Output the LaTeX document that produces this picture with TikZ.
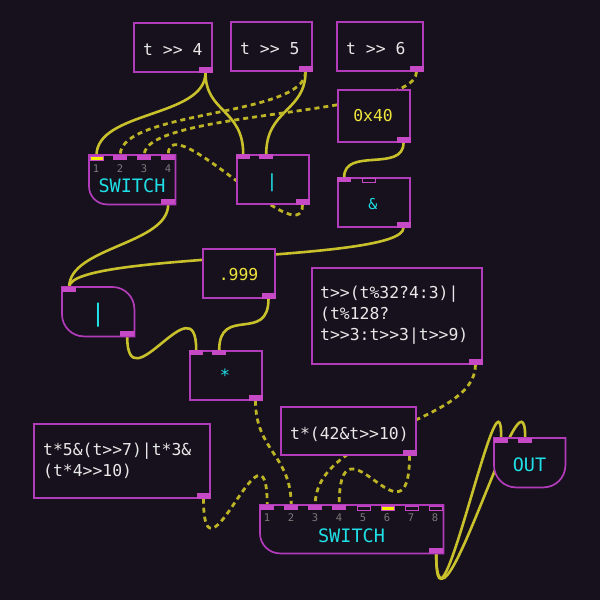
\documentclass[tikz,border=0pt]{standalone}
\usepackage{fontspec}
\newfontfamily\monof{DejaVu Sans Mono}
\definecolor{bgc}{HTML}{16111D}
\definecolor{boxc}{HTML}{B23BBA}
\definecolor{portc}{HTML}{C64AC6}
\definecolor{cablec}{HTML}{C8C12C}
\definecolor{dcablec}{HTML}{BDB526}
\definecolor{txtc}{HTML}{E8E8E8}
\definecolor{ylw}{HTML}{F0E53C}
\definecolor{cyn}{HTML}{1FE0E6}
\definecolor{numc}{HTML}{7A7A7A}
\definecolor{yport}{HTML}{F5F000}
\pgfdeclarelayer{bglayer}
\pgfdeclarelayer{cablelayer}
\pgfsetlayers{bglayer,cablelayer,main}
\tikzset{
 box/.style={rectangle, draw=boxc, fill=bgc, line width=1.7pt, inner sep=0pt, anchor=north west},
 frame/.style={rectangle, draw=none, fill=none, inner sep=0pt, anchor=north west},
 outline/.style={draw=boxc, fill=bgc, line width=1.7pt},
 inlet/.style={rectangle, fill=portc, draw=none, minimum width=14pt, minimum height=5pt, inner sep=0pt, anchor=north west},
 hollow/.style={rectangle, fill=bgc, draw=portc, line width=1pt, minimum width=13pt, minimum height=4.5pt, inner sep=0pt, anchor=north west},
 active/.style={rectangle, fill=yport, draw=portc, line width=1pt, minimum width=13pt, minimum height=4.5pt, inner sep=0pt, anchor=north west},
 outlet/.style={rectangle, fill=portc, draw=none, minimum width=14pt, minimum height=5.5pt, inner sep=0pt, anchor=south east},
 cable/.style={draw=cablec, line width=2.6pt},
 dcable/.style={draw=dcablec, line width=2.8pt, dash pattern=on 5pt off 4pt},
 code/.style={font=\monof\fontsize{16.4}{21}\selectfont, text=txtc, inner sep=0pt, align=left},
 num/.style={font=\monof\fontsize{10.5}{12}\selectfont, text=numc, inner sep=0pt, anchor=base},
 lit/.style={font=\monof\fontsize{16.4}{21}\selectfont, text=ylw, inner sep=0pt, anchor=base},
 op/.style={text=cyn, inner sep=0pt, anchor=center},
 title/.style={font=\monof\fontsize{18.5}{20}\selectfont, text=cyn, inner sep=0pt, anchor=base},
}
\begin{document}
\begin{tikzpicture}[x=1pt,y=-1pt]
\useasboundingbox (0,0) rectangle (600,600);
\begin{pgfonlayer}{bglayer}
\fill[bgc] (0,0) rectangle (600,600);
\end{pgfonlayer}

% ---------- plain boxes ----------
\node[box, minimum width=78pt, minimum height=49pt] (A) at (133,22) {};
\node[box, minimum width=81pt, minimum height=49pt] (B) at (230,21) {};
\node[box, minimum width=86pt, minimum height=49pt] (C) at (336,21) {};
\node[box, minimum width=72pt, minimum height=52pt] (D) at (337,89) {};
\node[box, minimum width=72pt, minimum height=49pt] (OR1) at (236,154) {};
\node[box, minimum width=72pt, minimum height=49pt] (AND) at (337,177) {};
\node[box, minimum width=72pt, minimum height=49pt] (N999) at (202,248) {};
\node[box, minimum width=72pt, minimum height=49pt] (MUL) at (189,350) {};
\node[box, minimum width=170pt, minimum height=96pt] (BIG) at (311,267) {};
\node[box, minimum width=135pt, minimum height=48pt] (T42) at (280,406) {};
\node[box, minimum width=176pt, minimum height=74pt] (LEFT) at (33,423) {};

% ---------- shaped boxes ----------
\node[frame, minimum width=86pt, minimum height=49pt] (SW1) at (89,155) {};
\draw[outline] (SW1.north west) -- (SW1.north east) -- (SW1.south east)
  -- ([xshift=18pt]SW1.south west) arc[start angle=270, end angle=180, radius=18pt] -- cycle;
\node[frame, minimum width=72pt, minimum height=49pt] (OR2) at (62,287) {};
\draw[outline] (OR2.north west) -- ([xshift=-22pt]OR2.north east)
  arc[start angle=90, end angle=0, radius=22pt] -- (OR2.south east)
  -- ([xshift=22pt]OR2.south west) arc[start angle=270, end angle=180, radius=22pt] -- cycle;
\node[frame, minimum width=183pt, minimum height=48pt] (SW2) at (260,505) {};
\draw[outline] (SW2.north west) -- (SW2.north east) -- (SW2.south east)
  -- ([xshift=20pt]SW2.south west) arc[start angle=270, end angle=180, radius=20pt] -- cycle;
\node[frame, minimum width=71pt, minimum height=49pt] (OUT) at (494,438) {};
\draw[outline] (OUT.north west) -- (OUT.north east) -- ([yshift=22pt]OUT.south east)
  arc[start angle=0, end angle=-90, radius=22pt] -- ([xshift=22pt]OUT.south west)
  arc[start angle=270, end angle=180, radius=22pt] -- cycle;

% ---------- ports ----------
\node[outlet] (Ao) at (A.south east) {};
\node[outlet] (Bo) at (B.south east) {};
\node[outlet] (Co) at (C.south east) {};
\node[outlet] (Do) at (D.south east) {};
\node[outlet] (S1o) at (SW1.south east) {};
\node[outlet] (O1o) at (OR1.south east) {};
\node[outlet] (ANDo) at (AND.south east) {};
\node[outlet] (No) at (N999.south east) {};
\node[outlet] (O2o) at (OR2.south east) {};
\node[outlet] (Mo) at (MUL.south east) {};
\node[outlet] (BIGo) at (BIG.south east) {};
\node[outlet] (To) at (T42.south east) {};
\node[outlet] (Lo) at (LEFT.south east) {};
\node[outlet] (S2o) at (SW2.south east) {};

\node[active] (S1i1) at ([shift={(0.5pt,-0.5pt)}]SW1.north west) {};
\node[inlet] (S1i2) at ([xshift=24pt]SW1.north west) {};
\node[inlet] (S1i3) at ([xshift=48pt]SW1.north west) {};
\node[inlet] (S1i4) at ([xshift=72pt]SW1.north west) {};
\node[inlet] (O1i1) at (OR1.north west) {};
\node[inlet] (O1i2) at ([xshift=23pt]OR1.north west) {};
\node[inlet] (ANDi1) at (AND.north west) {};
\node[hollow] (ANDi2) at ([shift={(24.5pt,-0.5pt)}]AND.north west) {};
\node[inlet] (O2i1) at (OR2.north west) {};
\node[inlet] (Mi1) at (MUL.north west) {};
\node[inlet] (Mi2) at ([xshift=23pt]MUL.north west) {};
\node[inlet] (S2i1) at (SW2.north west) {};
\node[inlet] (S2i2) at ([xshift=24pt]SW2.north west) {};
\node[inlet] (S2i3) at ([xshift=48pt]SW2.north west) {};
\node[inlet] (S2i4) at ([xshift=72pt]SW2.north west) {};
\node[hollow] (S2i5) at ([shift={(96.5pt,-0.5pt)}]SW2.north west) {};
\node[active] (S2i6) at ([shift={(120.5pt,-0.5pt)}]SW2.north west) {};
\node[hollow] (S2i7) at ([shift={(144.5pt,-0.5pt)}]SW2.north west) {};
\node[hollow] (S2i8) at ([shift={(168.5pt,-0.5pt)}]SW2.north west) {};
\node[inlet] (OUTi1) at (OUT.north west) {};
\node[inlet] (OUTi2) at ([xshift=24pt]OUT.north west) {};

% ---------- texts ----------
\node[code, anchor=base west] (Atx) at (143,55) {t >> 4};
\node[code, anchor=base west] (Btx) at (240,54) {t >> 5};
\node[code, anchor=base west] (Ctx) at (346,54) {t >> 6};
\node[lit] (Dtx) at (373,121.5) {0x40};
\node[lit] (Ntx) at (238.5,280.5) {.999};
\node[code, anchor=north west] (BIGtx) at (320,285.5) {t>>(t\%32?4:3)|\\(t\%128?\\t>>3:t>>3|t>>9)};
\node[code, anchor=base west] (Ttx) at (290,439) {t*(42\&t>>10)};
\node[code, anchor=north west] (Ltx) at (43,443.2) {t*5\&(t>>7)|t*3\&\\(t*4>>10)};
\node[op, font=\monof\fontsize{18}{19}\selectfont] (O1tx) at (272,182.5) {|};
\node[op, font=\monof\fontsize{15}{16}\selectfont] (ANDtx) at (373,204.5) {\&};
\node[op, font=\monof\fontsize{24}{26}\selectfont] (O2tx) at (98,315) {|};
\node[op, font=\monof\fontsize{17}{18}\selectfont] (Mtx) at (225,375) {*};
\node[title] (S1tx) at (132,192) {SWITCH};
\node[title] (S2tx) at (351.5,542) {SWITCH};
\node[title] (OUTtx) at (529.5,471) {OUT};
\foreach \k/\n in {0/1,1/2,2/3,3/4}
  \node[num] (S1n\n) at ({96+24*\k},172) {\n};
\foreach \k/\n in {0/1,1/2,2/3,3/4,4/5,5/6,6/7,7/8}
  \node[num] (S2n\n) at ({267+24*\k},521) {\n};

% ---------- cables ----------
\begin{pgfonlayer}{cablelayer}
\draw[cable] (Ao.south) .. controls +(0,45) and +(0,-45) .. (S1i1.north);
\draw[cable] (Ao.south) .. controls +(0,40) and +(0,-45) .. (O1i1.north);
\draw[cable] (Bo.south) .. controls +(0,40) and +(0,-45) .. (O1i2.north);
\draw[dcable] (Bo.south) .. controls +(0,45) and +(0,-45) .. (S1i2.north);
\draw[dcable] (Co.south) .. controls +(0,45) and +(0,-45) .. (S1i3.north);
\draw[dcable] (O1o.south) .. controls +(0,50) and +(0,-50) .. (S1i4.north);
\draw[cable] (Do.south) .. controls +(0,30) and +(0,-30) .. (ANDi1.north);
\draw[cable] (ANDo.south) .. controls +(0,35) and +(0,-35) .. (O2i1.north);
\draw[cable] (S1o.south) .. controls +(0,40) and +(0,-40) .. (O2i1.north);
\draw[cable] (O2o.south) .. controls +(0,70) and +(0,-70) .. (Mi1.north);
\draw[cable] (No.south) .. controls +(0,45) and +(0,-45) .. (Mi2.north);
\draw[dcable] (Mo.south) .. controls +(0,50) and +(0,-50) .. (S2i2.north);
\draw[dcable] (Lo.south) .. controls +(0,100) and +(0,-100) .. (S2i1.north);
\draw[dcable] (BIGo.south) .. controls +(0,60) and +(0,-75) .. (S2i3.north);
\draw[dcable] (To.south) .. controls +(0,100) and +(0,-100) .. (S2i4.north);
\draw[cable] (S2o.south) .. controls +(0,115) and +(0,-90) .. (OUTi1.north);
\draw[cable] (S2o.south) .. controls +(0,115) and +(0,-90) .. (OUTi2.north);
\end{pgfonlayer}
\end{tikzpicture}
\end{document}
